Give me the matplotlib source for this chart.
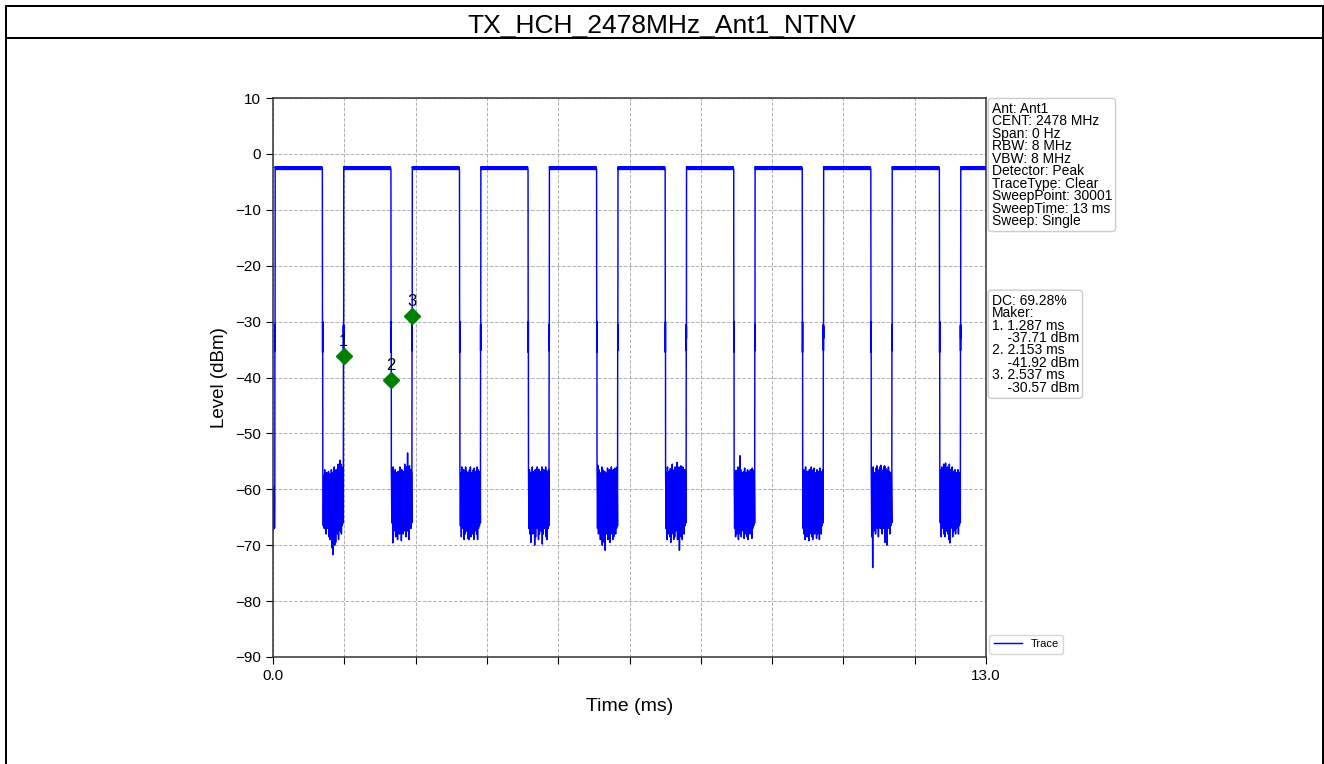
import numpy as np
import matplotlib.pyplot as plt
from matplotlib.lines import Line2D

plt.rcParams['font.family'] = ['Liberation Sans', 'DejaVu Sans']

#Chart text
title = "TX_HCH_2478MHz_Ant1_NTNV"
info_text = ("Ant: Ant1\nCENT: 2478 MHz\nSpan: 0 Hz\nRBW: 8 MHz\nVBW: 8 MHz\n"
             "Detector: Peak\nTraceType: Clear\nSweepPoint: 30001\n"
             "SweepTime: 13 ms\nSweep: Single")
dc_text = ("DC: 69.28%\nMaker:\n1. 1.287 ms\n    -37.71 dBm\n2. 2.153 ms\n"
           "    -41.92 dBm\n3. 2.537 ms\n    -30.57 dBm")

#Burst edges (ms)
rise_times = [0.037, 1.287, 2.537, 3.787, 5.037, 6.287, 7.537, 8.787, 10.037, 11.287, 12.537]
fall_times = [0.903, 2.153, 3.403, 4.653, 5.903, 7.153, 8.403, 9.653, 10.903, 12.153]
sweep_end = 13.0

#Levels (dBm)
on_top = -2.3
on_bottom = -2.8
fall_edge = [-24.0, -35.5, -24.5, -35.2, -30.0]
rise_edge = [-35.5, -30.5, -35.2, -30.8, -33.0]
start_noise = [-60.0, -67.3, -61.0, -66.5, -59.6, -67.0, -62.0]

#Noise between bursts: peaks and troughs, one row per gap
noise_peaks = [
    [-57, -57.5, -56.5, -58, -57, -57.5, -56.8, -57.2, -58, -56.5, -57, -57.5, -56, -56.8, -56.5, -57, -55.5, -56, -54.8, -55.5, -56, -56.5],
    [-56.5, -57, -56, -57.5, -56.5, -57, -58, -56.8, -57.5, -56, -57, -56.5, -57.5, -56.8, -55.5, -57, -56, -53.5, -56.5, -55.8, -56.5, -57],
    [-56.5, -57, -56, -57.5, -56.5, -57.5, -56, -56.8, -57.5, -57, -56.5, -56, -57, -57.5, -56.5, -56.2, -56.8, -57, -56, -56.5, -57, -56.8],
    [-56, -56.5, -57, -57.5, -56, -56.8, -57.2, -56.5, -57.5, -56, -57, -56.4, -57.5, -56.8, -56, -57, -56.5, -57.2, -56, -56.8, -57, -56.5],
    [-56, -55.7, -56.5, -57, -57.5, -56, -56.5, -57.5, -56.8, -57, -58, -56.2, -57.5, -56.5, -57, -56, -57.5, -56.5, -57, -56.2, -56.8, -56],
    [-56.5, -57, -56, -57.5, -56.8, -56.3, -57.2, -55.5, -57, -56.5, -56, -57.5, -55.2, -56.5, -56, -57, -55.8, -56.5, -56, -57, -56.5, -56.8],
    [-56.5, -57, -56.6, -57.5, -56, -57, -54, -56.5, -57.5, -57, -56.8, -56.2, -57.5, -57, -56.5, -56.8, -57.2, -56.5, -57, -56.2, -56.8, -56.5],
    [-57, -56.5, -57.2, -56, -57.5, -56.8, -57, -56.5, -57.5, -56, -57, -56.5, -56.2, -57.5, -57, -56.5, -56.8, -57, -56.2, -56.8, -57, -56.5],
    [-57, -56.5, -56, -57.5, -57, -56.2, -55.8, -56.5, -57, -56, -55.7, -56.5, -57, -56, -55.8, -56.2, -57, -56.5, -56, -56.8, -57, -57.5],
    [-57, -56.5, -56, -57.5, -55.5, -56.8, -55.3, -57, -56, -57, -55.5, -56.5, -57.5, -56, -56.8, -57, -56.5, -57.5, -57, -56.5, -57.5, -57],
]
noise_troughs = [
    [-66.5, -67, -65.5, -68, -67, -66, -68.5, -69, -67, -70.5, -71.7, -68.5, -70, -69.5, -67, -68, -69, -66.5, -67.5, -68, -66.5, -66],
    [-66, -69.6, -67.5, -66.5, -68.5, -67, -69, -66.5, -68, -67.5, -69.2, -67, -68, -66, -67.5, -68.5, -66.8, -67.5, -69, -66.5, -67, -66],
    [-66.5, -68.5, -67, -66, -69, -68, -67.5, -66.5, -68.8, -69, -67, -68.5, -66.5, -68, -69, -67.5, -66.5, -68, -69, -67, -66.5, -66],
    [-67, -68, -69.5, -66.5, -68, -67.5, -70, -68.5, -66.5, -67, -69, -68, -66.5, -67.5, -69.8, -68, -67, -66.5, -68.5, -69, -67, -66.5],
    [-67, -68, -66.5, -69, -68.5, -70, -67, -69.5, -70.9, -68, -66.5, -69, -67.5, -69.5, -68, -67, -69, -68.5, -67, -68, -67, -66.5],
    [-67, -69, -68, -66.5, -68.5, -69.5, -68, -67, -69, -68.5, -67.5, -66.5, -69, -68, -70.9, -67, -68.5, -69, -67, -68, -66.5, -66],
    [-67, -68.5, -68, -66.5, -69, -67.5, -68, -68.5, -66.5, -67.5, -68.8, -68, -67, -68.5, -69, -66.5, -68, -67.5, -68.8, -67, -66.5, -66],
    [-67, -68, -69, -66.5, -68.5, -67.5, -69.2, -68, -66.5, -68.5, -69, -67.5, -68, -66.5, -68.8, -68, -67, -69, -67.5, -68, -66.5, -66],
    [-68.5, -74, -67.5, -66, -68, -66.5, -67, -68.5, -65.5, -67, -66.5, -68, -67, -65.5, -69.5, -67, -70, -66.5, -67, -68, -66.5, -66],
    [-66, -68.5, -67, -65.5, -68, -68.5, -67.5, -66.5, -68, -69, -69.6, -67, -66, -68.5, -67.5, -66.5, -68, -67, -66.5, -68, -66.5, -66],
]

#Markers
marker_times = [1.287, 2.153, 2.537]
marker_levels = [-37.71, -41.92, -30.57]
marker_names = ["1", "2", "3"]
MARKER_OFFSET = 1.5


#Build the trace from the pieces above
t = []
y = []
t += list(np.linspace(0, rise_times[0] - 0.004, len(start_noise)))
y += start_noise
for i, tr in enumerate(rise_times):
    t += list(np.linspace(tr - 0.003, tr + 0.001, len(rise_edge)))
    y += rise_edge
    tf = fall_times[i] if i < len(fall_times) else sweep_end
    n = int((tf - tr) / 0.01)
    t += list(np.linspace(tr + 0.003, tf - 0.003, n))
    y += [on_top if k % 2 == 0 else on_bottom for k in range(n)]
    if i < len(fall_times):
        t += list(np.linspace(tf - 0.001, tf + 0.003, len(fall_edge)))
        y += fall_edge
        vals = []
        for p, q in zip(noise_peaks[i], noise_troughs[i]):
            vals += [p, q]
        t += list(np.linspace(tf + 0.005, rise_times[i + 1] - 0.005, len(vals)))
        y += vals

fig = plt.figure(figsize=(13.24, 7.64), dpi=100)
ax = fig.add_axes([273 / 1324, 1 - 657 / 764, 713 / 1324, 559 / 764])

ax.plot(t, y, color='blue', linewidth=1.05, label='Trace')
for mt, ml, mn in zip(marker_times, marker_levels, marker_names):
    ax.plot(mt, ml + MARKER_OFFSET, 'D', color='green', markersize=8)
    ax.annotate(mn, (mt, ml + MARKER_OFFSET), xytext=(0, 5), textcoords='offset points',
                ha='center', va='bottom', fontsize=12)

ax.set_xlim(0, sweep_end)
ax.set_ylim(-90, 10)
ax.set_yticks(np.arange(-90, 11, 10))
xt = np.linspace(0, sweep_end, 11)
ax.set_xticks(xt)
ax.set_xticklabels(["0.0"] + [""] * 9 + ["13.0"])
ax.tick_params(labelsize=11, length=5)
ax.grid(True, linestyle='--', color='#b0b0b0', linewidth=0.7)
for s in ax.spines.values():
    s.set_color('#333333')
    s.set_linewidth(1.1)

ax.set_xlabel("Time (ms)", fontsize=14, labelpad=11)
ax.set_ylabel("Level (dBm)", fontsize=13.5, labelpad=5)

box = dict(boxstyle='round,pad=0.25', facecolor='white', edgecolor='#cccccc')
ax.text(1.008, 0.993, info_text, transform=ax.transAxes, ha='left', va='top',
        fontsize=10, linespacing=0.86, bbox=box)
ax.text(1.008, 0.650, dc_text, transform=ax.transAxes, ha='left', va='top',
        fontsize=10, linespacing=0.86, bbox=box)
ax.legend(loc='lower left', bbox_to_anchor=(1.0, 0.0), fontsize=8,
          borderaxespad=0.3, handlelength=2.5)

#Title band with frame
fig.text(0.5, 1 - 33 / 764, title, ha='center', va='baseline', fontsize=19)
lw = 2.0 * 72 / 100
for xs, ys in [([6 / 1324, 1322.5 / 1324], [1 - 6 / 764, 1 - 6 / 764]),
               ([6 / 1324, 1322.5 / 1324], [1 - 38 / 764, 1 - 38 / 764]),
               ([6 / 1324, 6 / 1324], [0, 1 - 6 / 764]),
               ([1322.5 / 1324, 1322.5 / 1324], [0, 1 - 6 / 764])]:
    fig.add_artist(Line2D(xs, ys, color='black', linewidth=lw, transform=fig.transFigure))

fig.savefig("out.png", dpi=100)
